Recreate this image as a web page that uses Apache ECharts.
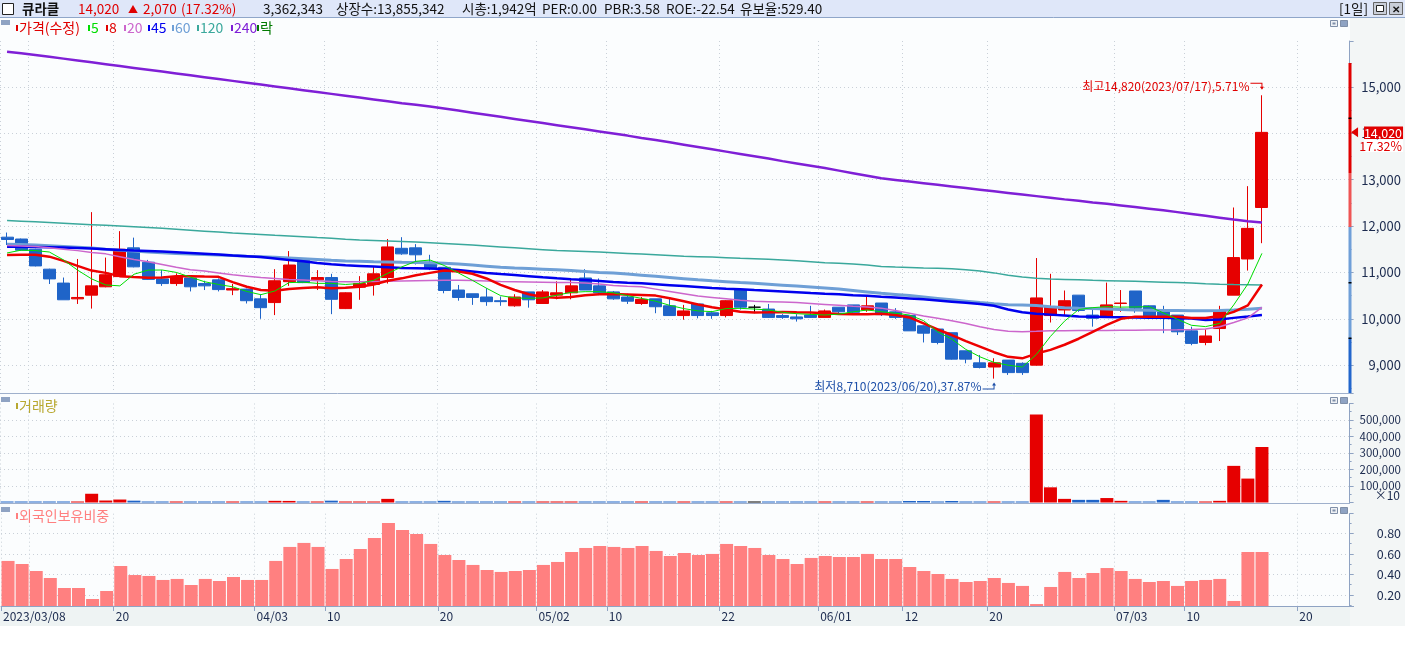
<!DOCTYPE html>
<html>
<head>
<meta charset="utf-8">
<script src="https://cdn.jsdelivr.net/npm/echarts@6/dist/echarts.min.js"></script>
<style>
  html, body { margin: 0; padding: 0; background: #fff; }
  #chart { width: 1405px; height: 648px; }
</style>
</head>
<body>
<div id="chart"></div>
<script>
// trading days shown, plus the empty days to the right of the last candle
var dates = [
  '2023/03/08','2023/03/09','2023/03/10','2023/03/13','2023/03/14','2023/03/15','2023/03/16','2023/03/17',
  '2023/03/20','2023/03/21','2023/03/22','2023/03/23','2023/03/24','2023/03/27','2023/03/28','2023/03/29',
  '2023/03/30','2023/03/31','2023/04/03','2023/04/04','2023/04/05','2023/04/06','2023/04/07','2023/04/10',
  '2023/04/11','2023/04/12','2023/04/13','2023/04/14','2023/04/17','2023/04/18','2023/04/19','2023/04/20',
  '2023/04/21','2023/04/24','2023/04/25','2023/04/26','2023/04/27','2023/04/28','2023/05/02','2023/05/03',
  '2023/05/04','2023/05/08','2023/05/09','2023/05/10','2023/05/11','2023/05/12','2023/05/15','2023/05/16',
  '2023/05/17','2023/05/18','2023/05/19','2023/05/22','2023/05/23','2023/05/24','2023/05/25','2023/05/26',
  '2023/05/30','2023/05/31','2023/06/01','2023/06/02','2023/06/05','2023/06/07','2023/06/08','2023/06/09',
  '2023/06/12','2023/06/13','2023/06/14','2023/06/15','2023/06/16','2023/06/19','2023/06/20','2023/06/21',
  '2023/06/22','2023/06/23','2023/06/26','2023/06/27','2023/06/28','2023/06/29','2023/06/30','2023/07/03',
  '2023/07/04','2023/07/05','2023/07/06','2023/07/07','2023/07/10','2023/07/11','2023/07/12','2023/07/13',
  '2023/07/14','2023/07/17','2023/07/18','2023/07/19','2023/07/20','2023/07/21','2023/07/24','2023/07/25'
];
var boundaryDates = dates.concat(['2023/07/26']);
var labelDates = ['2023/03/08','2023/03/20','2023/04/03','2023/04/10','2023/04/20','2023/05/02','2023/05/10',
  '2023/05/22','2023/06/01','2023/06/12','2023/06/20','2023/07/03','2023/07/10','2023/07/20'];
var gridDates = labelDates.concat(['2023/03/10']);

var openP = [11760,11720,11500,11070,10770,10430,10510,10690,10910,11530,11220,10860,10760,10880,10760,10840,
  10620,10640,10430,10350,10800,11270,10840,10890,10220,10680,10740,10890,11520,11530,11220,11110,
  10620,10540,10470,10390,10280,10580,10330,10510,10560,10880,10710,10580,10470,10330,10430,10280,
  10070,10320,10130,10070,10620,10250,10210,10070,10040,10080,10030,10250,10300,10190,10340,10150,
  10070,9850,9780,9700,9310,9050,8960,9110,9040,9000,10070,10190,10510,10080,10030,10330,
  10600,10280,10150,10080,9740,9490,9790,10510,11290,12400];
var highP = [11860,11730,11510,11080,10890,11290,12300,11320,11890,11750,11270,11050,10980,10890,10820,10870,
  10750,10650,10530,11070,11460,11280,11050,10970,10570,10920,11120,11720,11760,11610,11380,11110,
  10730,10540,10660,10480,10530,10580,10620,10810,10850,11070,10870,10600,10540,10470,10430,10440,
  10300,10320,10170,10400,10620,10300,10320,10100,10100,10280,10200,10250,10300,10510,10340,10230,
  10070,9860,9780,9700,9310,9220,9150,9110,9060,11310,10970,10610,10510,10230,10780,10620,
  10600,10290,10280,10080,9830,9770,10280,12400,12860,14820];
var lowP = [11590,11470,11130,10750,10410,10320,10220,10680,10900,11110,10840,10710,10710,10590,10620,10590,
  10510,10330,10000,10080,10710,10770,10620,10100,10210,10410,10500,10760,11380,11170,11050,10550,
  10390,10300,10280,10280,10260,10240,10330,10420,10420,10620,10510,10410,10320,10300,10120,10060,
  9980,10010,10000,10030,10200,10120,10020,10000,9940,10020,10030,10090,10100,10150,10060,10000,
  9740,9490,9450,9120,9040,8930,8710,8790,8790,8990,9920,10080,10150,9830,10030,10150,
  10130,10030,9690,9650,9430,9430,9520,10510,11040,11630];
var closeP = [11710,11480,11140,10860,10410,10460,10710,10950,11500,11120,10850,10760,10910,10690,10710,10630,
  10650,10390,10240,10820,11160,10780,10890,10420,10560,10760,10970,11550,11400,11380,11080,10610,
  10460,10460,10370,10370,10470,10410,10580,10560,10710,10620,10560,10430,10380,10420,10260,10070,
  10170,10070,10070,10390,10250,10250,10030,10030,10000,10030,10170,10150,10140,10280,10090,10030,
  9740,9690,9490,9130,9130,8950,9050,8840,8840,10450,10260,10390,10180,10010,10300,10340,
  10230,10050,10050,9720,9470,9630,10170,11320,11950,14020];

// moving averages as drawn on the chart
var ma5 = [11420,11480,11470,11440,11270,11050,10860,10730,10710,10960,11050,11052,11000,10900,10800,10740,
  10690,10590,10520,10600,10780,10790,10764,10764,10740,10760,10830,10980,11120,11240,11267,11150,
  10990,10830,10660,10500,10450,10442,10450,10510,10570,10585,10585,10560,10500,10440,10380,10290,
  10220,10170,10154,10220,10226,10210,10190,10140,10110,10095,10082,10100,10150,10190,10154,10120,
  10082,9960,9720,9560,9340,9180,9060,9000,8960,9230,9620,9950,10200,10240,10262,10252,
  10255,10262,10130,9990,9860,9831,9900,10300,10750,11411];
var ma8 = [11375,11380,11380,11340,11250,11140,11040,10990,10920,10900,10886,10890,10915,10920,10910,10905,
  10790,10690,10620,10606,10640,10665,10678,10660,10670,10690,10740,10820,10872,10940,10990,11040,
  11020,10970,10870,10730,10620,10530,10470,10456,10472,10510,10528,10535,10525,10513,10500,10445,
  10380,10310,10250,10200,10150,10135,10140,10147,10140,10135,10120,10105,10100,10097,10110,10080,
  10030,9900,9770,9650,9520,9400,9280,9180,9148,9250,9330,9440,9570,9720,9870,10000,
  10046,10046,10046,10046,10015,10015,10060,10150,10290,10740];
var ma20 = [11580,11570,11560,11530,11500,11470,11430,11400,11340,11280,11230,11170,11110,11060,11030,10990,
  10950,10920,10890,10870,10850,10835,10820,10805,10800,10800,10805,10810,10815,10820,10825,10830,
  10830,10825,10815,10805,10800,10795,10790,10785,10780,10770,10750,10720,10700,10690,10640,10590,
  10540,10490,10460,10430,10400,10380,10370,10360,10350,10330,10310,10290,10270,10255,10230,10180,
  10120,10060,10010,9960,9900,9830,9770,9730,9723,9730,9740,9744,9746,9748,9750,9752,
  9755,9758,9760,9764,9770,9780,9830,9920,10020,10248];
var ma45 = [11555,11552,11548,11542,11535,11528,11515,11500,11485,11470,11462,11450,11435,11420,11405,11385,
  11365,11350,11330,11300,11270,11240,11205,11175,11155,11140,11125,11110,11095,11090,11085,11075,
  11050,11020,10990,10966,10945,10920,10895,10872,10852,10835,10815,10795,10778,10765,10745,10725,
  10705,10685,10665,10650,10636,10620,10605,10590,10575,10555,10540,10530,10510,10495,10477,10460,
  10440,10420,10395,10370,10345,10320,10280,10200,10140,10110,10090,10070,10050,10046,10040,10035,
  10030,10025,10020,10012,10005,9975,9985,10020,10050,10082];
var ma60 = [11606,11600,11590,11575,11560,11545,11525,11500,11480,11460,11440,11425,11410,11395,11385,11375,
  11365,11350,11339,11325,11310,11295,11280,11262,11248,11240,11232,11225,11218,11212,11206,11200,
  11180,11160,11135,11110,11095,11085,11070,11055,11040,11020,11000,10985,10965,10940,10915,10890,
  10865,10840,10818,10800,10782,10765,10745,10725,10705,10685,10665,10640,10610,10580,10550,10525,
  10500,10470,10440,10410,10380,10350,10325,10305,10298,10285,10260,10240,10227,10220,10210,10200,
  10190,10185,10180,10178,10175,10175,10180,10190,10205,10227];
var ma120 = [12120,12105,12090,12075,12060,12045,12030,12015,12000,11985,11970,11950,11930,11910,11890,11870,
  11850,11835,11818,11800,11785,11770,11752,11735,11715,11700,11690,11680,11668,11655,11640,11625,
  11610,11590,11570,11550,11530,11510,11490,11470,11460,11450,11440,11425,11410,11395,11380,11365,
  11350,11340,11330,11318,11305,11295,11285,11270,11250,11230,11210,11196,11180,11160,11130,11115,
  11105,11095,11088,11080,11060,11030,10990,10940,10900,10873,10860,10850,10840,10830,10822,10815,
  10808,10800,10790,10780,10770,10755,10745,10738,10733,10729];
var ma240 = [15760,15725,15690,15650,15610,15570,15530,15490,15450,15410,15370,15330,15290,15250,15210,15170,
  15130,15090,15050,15010,14970,14930,14890,14850,14810,14770,14730,14690,14650,14615,14580,14535,
  14490,14445,14400,14355,14310,14265,14220,14175,14130,14085,14040,13995,13950,13900,13855,13805,
  13755,13705,13655,13605,13555,13505,13455,13400,13350,13300,13250,13195,13140,13085,13030,12995,
  12960,12925,12890,12855,12820,12785,12750,12715,12680,12645,12610,12575,12545,12510,12480,12445,
  12410,12375,12340,12300,12260,12220,12180,12140,12105,12075];

// shares traded (axis shows them x10)
var volume = [60000,50000,55000,50000,60000,55000,530000,120000,180000,110000,50000,45000,55000,50000,45000,50000,
  55000,45000,50000,100000,95000,50000,55000,110000,50000,55000,50000,220000,50000,45000,50000,100000,
  55000,50000,45000,50000,55000,50000,55000,50000,55000,60000,50000,45000,50000,55000,50000,45000,
  50000,50000,45000,55000,50000,50000,45000,50000,45000,50000,55000,50000,45000,55000,50000,50000,
  90000,90000,50000,90000,50000,45000,60000,50000,50000,5330000,920000,220000,160000,160000,270000,100000,
  40000,40000,160000,40000,45000,60000,100000,2220000,1450000,3362343];

// 외국인보유비중 (%)
var foreignRatio = [0.531,0.501,0.433,0.365,0.268,0.268,0.161,0.239,0.482,0.394,0.385,0.346,0.356,0.297,0.356,0.336,
  0.375,0.346,0.346,0.531,0.667,0.706,0.667,0.453,0.550,0.647,0.754,0.900,0.832,0.793,0.696,0.589,
  0.540,0.492,0.443,0.424,0.433,0.443,0.492,0.521,0.618,0.657,0.676,0.667,0.657,0.676,0.628,0.579,
  0.608,0.589,0.599,0.696,0.676,0.657,0.589,0.550,0.501,0.560,0.579,0.569,0.569,0.599,0.550,0.550,
  0.472,0.433,0.404,0.356,0.326,0.336,0.365,0.317,0.288,0.112,0.278,0.424,0.365,0.414,0.462,0.433,
  0.356,0.326,0.336,0.288,0.336,0.346,0.356,0.142,0.618,0.618];

var RED = '#e60000', BLUE = '#1f64c8', AXIS = '#8fa3c3', GRIDC = '#c9d0d8', TXT = '#1b2a4e';
var KR = '"Noto Sans CJK KR",sans-serif';

function fmt(n) { return Math.round(n).toLocaleString('en-US'); }
function isLabel(i, v) { return labelDates.indexOf(v) >= 0; }
function isGrid(i, v) { return gridDates.indexOf(v) >= 0; }
function dateLabel(v, i) {
  if (i === 0) return v;
  var prev = boundaryDates[i - 1];
  if (prev && prev.substr(5, 2) !== v.substr(5, 2)) return v.substr(5);
  return v.substr(8);
}

var n = closeP.length;
var last = closeP[n - 1], prevClose = closeP[n - 2];
var candles = [], volData = [];
var hiIdx = 0, loIdx = 0;
for (var i = 0; i < n; i++) {
  candles.push([openP[i], closeP[i], lowP[i], highP[i]]);
  var col = closeP[i] > openP[i] ? RED : (closeP[i] < openP[i] ? BLUE : '#000');
  volData.push({ value: volume[i], itemStyle: { color: col } });
  if (highP[i] > highP[hiIdx]) hiIdx = i;
  if (lowP[i] < lowP[loIdx]) loIdx = i;
}
var hiPct = ((highP[hiIdx] - last) / last * 100).toFixed(2);
var loPct = ((last - lowP[loIdx]) / last * 100).toFixed(2);
var chgPct = ((last - prevClose) / prevClose * 100).toFixed(2);

var GRID_W = 1353.6;
var grids = [
  { left: 0, width: GRID_W, top: 41, height: 352 },
  { left: 0, width: GRID_W, top: 403.5, height: 99 },
  { left: 0, width: GRID_W, top: 513.7, height: 92.3 }
];

function mainX(g) {
  return { type: 'category', gridIndex: g, data: dates, boundaryGap: true, show: false };
}
function helperX(g, withLabels) {
  return {
    type: 'category', gridIndex: g, data: boundaryDates, boundaryGap: false, position: 'bottom',
    axisLine: { show: withLabels, lineStyle: { color: AXIS } },
    axisTick: { show: withLabels, interval: isLabel, length: 5, lineStyle: { color: AXIS } },
    axisLabel: { show: withLabels, interval: isLabel, formatter: dateLabel, align: 'left', margin: 4,
      padding: [0, 0, 0, 2], color: TXT, fontFamily: KR, fontSize: 12 },
    splitLine: { show: true, interval: isGrid, lineStyle: { color: GRIDC, type: [1, 3] } }
  };
}
function rightY(g, min, max, split, size, formatter) {
  return {
    type: 'value', gridIndex: g, position: 'right', offset: -4, min: min, max: max, splitNumber: split,
    axisLine: { show: true, lineStyle: { color: AXIS } },
    axisTick: { show: true, length: 4, lineStyle: { color: AXIS } },
    minorTick: { show: true, splitNumber: 2, length: 2, lineStyle: { color: AXIS } },
    axisLabel: { showMinLabel: false, showMaxLabel: false, align: 'right', margin: 51.4,
      color: TXT, fontFamily: KR, fontSize: size, formatter: formatter },
    splitLine: { show: true, showMinLine: false, showMaxLine: false, lineStyle: { color: GRIDC, type: [1, 3] } }
  };
}

function maLine(name, data, color, width) {
  return { name: name, type: 'line', xAxisIndex: 0, yAxisIndex: 0, data: data, symbol: 'none',
    lineStyle: { color: color, width: width }, z: 3, silent: true };
}

// decorations: header, panel captions, side strip
var legendItems = [
  { x: 16, c: '#e00000', t: '가격(수정)' }, { x: 88, c: '#00dd00', t: '5' }, { x: 106, c: '#e00000', t: '8' },
  { x: 124, c: '#cc66cc', t: '20' }, { x: 148, c: '#0000ee', t: '45' }, { x: 172, c: '#6e9fd6', t: '60' },
  { x: 197, c: '#3aa89c', t: '120' }, { x: 231, c: '#7f1fd6', t: '240' }, { x: 257, c: '#007a00', t: '락' }
];
var g = [];
function txt(x, y, t, fill, font, align) {
  g.push({ type: 'text', x: x, y: y, z: 50, style: { text: t, fill: fill, font: font,
    textAlign: align || 'left', textVerticalAlign: 'middle' } });
}
function rect(x, y, w, h, fill, z, stroke) {
  g.push({ type: 'rect', shape: { x: x, y: y, width: w, height: h }, z: z,
    style: { fill: fill, stroke: stroke || null, lineWidth: 1 } });
}
function hline(y, x1, x2, color) {
  g.push({ type: 'line', shape: { x1: x1, y1: y, x2: x2, y2: y }, z: 40, style: { stroke: color, lineWidth: 1 } });
}

rect(0, 0, 1405, 17, '#dfe7f9', -10);
hline(17.5, 0, 1405, '#8fa6c9');
rect(1350, 18, 55, 608, '#f3f6f6', -10);
rect(0, 607, 1350, 19, '#eef3f3', -10);
rect(0, 626, 1405, 22, '#ffffff', -10);
hline(393.5, 0, 1350, '#9fb0cc');
hline(503.5, 0, 1350, '#9fb0cc');

// header
rect(2.5, 3.5, 11, 11, '#ffffff', 45, '#222');
var HF = '13.5px ' + KR;
txt(22, 9, '큐라클', '#111', 'bold 13.5px ' + KR);
txt(78, 9, fmt(last), '#e00000', HF);
txt(128, 9, '▲', '#e00000', '10px ' + KR);
txt(143, 9, fmt(last - prevClose), '#e00000', HF);
txt(181, 9, '(' + chgPct + '%)', '#e00000', HF);
txt(263, 9, fmt(volume[n - 1]), '#111', HF);
txt(336, 9, '상장수:13,855,342', '#111', HF);
txt(462, 9, '시총:1,942억', '#111', HF);
txt(542, 9, 'PER:0.00', '#111', HF);
txt(604, 9, 'PBR:3.58', '#111', HF);
txt(666, 9, 'ROE:-22.54', '#111', HF);
txt(740, 9, '유보율:529.40', '#111', HF);
txt(1339, 9, '[1일]', '#111', HF);
rect(1373.5, 2.5, 13, 12, '#c9ced8', 45, '#666');
rect(1376.5, 5.5, 7, 6, '#ffffff', 46, '#222');
rect(1389.5, 2.5, 13, 12, '#c9ced8', 45, '#666');
txt(1396, 9, '✕', '#111', 'bold 10px ' + KR, 'center');

// price panel caption
rect(1, 20, 9, 5, AXIS, 45);
legendItems.forEach(function (it) {
  rect(it.x, 25, 2, 6, it.c, 45);
  txt(it.x + 3, 28, it.t, it.c, '14px ' + KR);
});
// volume and foreign captions
rect(1, 397, 9, 5, AXIS, 45);
rect(16, 403, 2, 6, '#b8a830', 45);
txt(19, 406, '거래량', '#b8a830', '14px ' + KR);
rect(1, 507, 9, 5, AXIS, 45);
rect(16, 513, 2, 6, '#ff7f7f', 45);
txt(19, 516, '외국인보유비중', '#ff7f7f', '14px ' + KR);
// panel buttons
[20.5, 397.5, 507.5].forEach(function (y) {
  rect(1330.5, y, 7, 6, '#eef1f5', 45, '#7f8fa8');
  rect(1332.5, y + 2, 3, 2, '#7f8fa8', 46);
  rect(1340.5, y, 7, 6, '#8fa3c3', 45, '#7f8fa8');
});
txt(1400, 495, '×10', TXT, '12px ' + KR, 'right');
// coloured band on the price axis
rect(1348.5, 63, 3, 110, '#e00000', 30);
rect(1348.5, 173, 3, 54, '#ee5555', 30);
rect(1348.5, 227, 3, 111, '#6f9fd8', 30);
rect(1348.5, 338, 3, 55, '#2266cc', 30);
rect(1348.5, 117.5, 3, 1.5, '#000', 31);
rect(1348.5, 282, 3, 1.5, '#000', 31);
rect(1348.5, 337.5, 3, 1.5, '#000', 31);

var option = {
  animation: false,
  backgroundColor: '#fbfdfe',
  grid: grids,
  xAxis: [mainX(0), helperX(0, false), mainX(1), helperX(1, false), mainX(2), helperX(2, true)],
  yAxis: [
    rightY(0, 8400, 15990, 8, 13, fmt),
    rightY(1, 0, 5999900, 6, 11.5, function (v) { return fmt(v / 10); }),
    rightY(2, 0.093, 0.99, 5, 12.5, function (v) { return v.toFixed(2); })
  ],
  graphic: g,
  series: [
    {
      name: '가격(수정)', type: 'candlestick', xAxisIndex: 0, yAxisIndex: 0, data: candles,
      barWidth: 12.5, z: 2,
      itemStyle: { color: RED, color0: BLUE, borderColor: RED, borderColor0: BLUE, borderColorDoji: '#000', borderWidth: 1 },
      markPoint: {
        silent: true,
        data: [
          {
            coord: [dates[hiIdx], highP[hiIdx]],
            symbol: 'path://M0,0H12V4H13.5L11.5,7L9.5,4H11V1H0Z', symbolSize: [13.5, 7], symbolOffset: [-4.75, -9],
            itemStyle: { color: '#e00000' },
            label: { show: true, position: 'left', distance: 1, color: '#e00000', fontSize: 12, fontFamily: KR,
              formatter: '최고' + fmt(highP[hiIdx]) + '(' + dates[hiIdx] + '),' + hiPct + '%' }
          },
          {
            coord: [dates[loIdx], lowP[loIdx]],
            symbol: 'path://M0,6H11V3H9.5L11.5,0L13.5,3H12V7H0Z', symbolSize: [13.5, 7], symbolOffset: [-4.75, 7.5],
            itemStyle: { color: '#1d4fa8' },
            label: { show: true, position: 'left', distance: 1, color: '#1d4fa8', fontSize: 12, fontFamily: KR,
              formatter: '최저' + fmt(lowP[loIdx]) + '(' + dates[loIdx] + '),' + loPct + '%' }
          },
          {
            coord: [dates[dates.length - 1], last],
            symbol: 'triangle', symbolSize: [10, 7], symbolRotate: 90, symbolOffset: [8, 0],
            itemStyle: { color: '#e00000' },
            label: {
              show: true, position: 'right', distance: 6, offset: [0, 7],
              formatter: '{a|' + fmt(last) + '}\n{b|' + chgPct + '%}',
              rich: {
                a: { color: '#fff', backgroundColor: '#e00000', fontFamily: KR, fontSize: 12.5, width: 38, align: 'right', padding: [0, 1, 0, 0], lineHeight: 13 },
                b: { color: '#e00000', backgroundColor: '#fff', fontFamily: KR, fontSize: 12.5, width: 38, align: 'right', padding: [0, 1, 0, 0], lineHeight: 13 }
              }
            }
          }
        ]
      }
    },
    maLine('240', ma240, '#7f1fd6', 2.5),
    maLine('120', ma120, '#3aa89c', 1.5),
    maLine('60', ma60, '#6e9fd6', 3),
    maLine('45', ma45, '#0000ee', 2.5),
    maLine('20', ma20, '#cc66cc', 1.5),
    maLine('8', ma8, '#ee0000', 2.5),
    maLine('5', ma5, '#00dd00', 1),
    {
      name: '거래량', type: 'bar', xAxisIndex: 2, yAxisIndex: 1, data: volData,
      barWidth: 13, barMinHeight: 1
    },
    {
      name: '외국인보유비중', type: 'bar', xAxisIndex: 4, yAxisIndex: 2, data: foreignRatio,
      barWidth: 13, itemStyle: { color: '#ff8080' }
    }
  ]
};

var myChart = echarts.init(document.getElementById('chart'));
myChart.setOption(option);
window.addEventListener('resize', function () {
  myChart.resize();
});
</script>
</body>
</html>
